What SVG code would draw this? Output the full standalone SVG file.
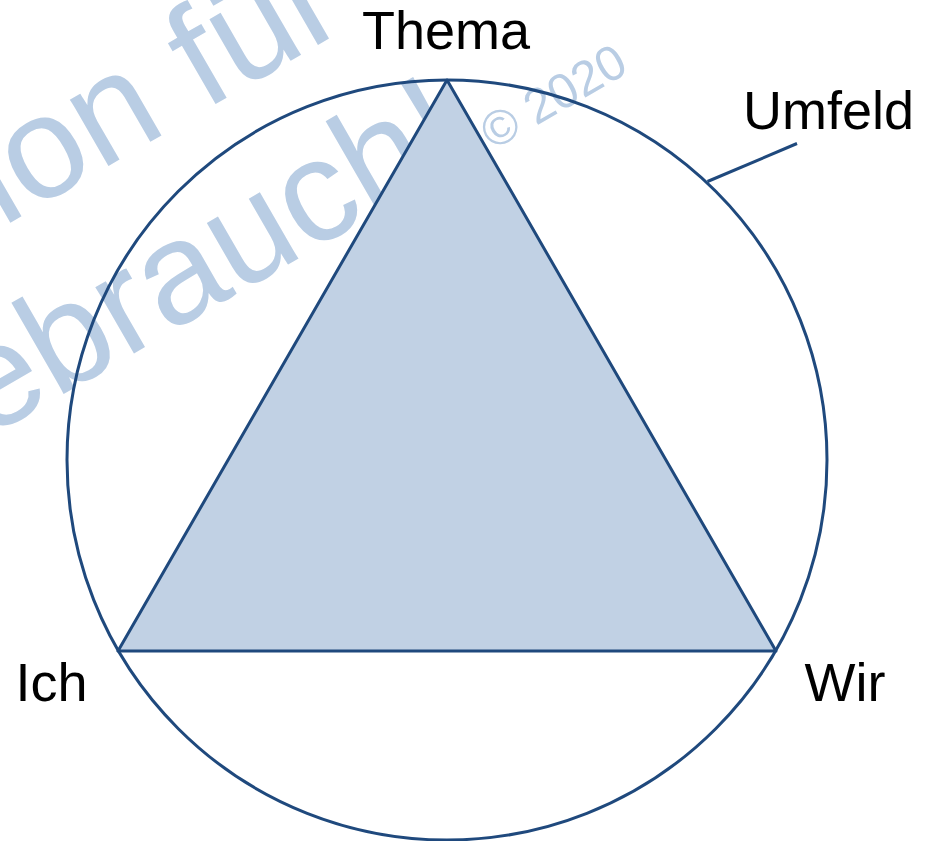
<svg xmlns="http://www.w3.org/2000/svg" width="928" height="841" viewBox="0 0 928 841">
  <style>
    .wm { fill: #b9cde4; font-family: "Liberation Sans", Arial, sans-serif; }
    .lbl { fill: #000000; font-family: "Liberation Sans", Arial, sans-serif; font-size: 54px; }
    .edge { stroke: #1f497d; stroke-width: 3; fill: none; }
  </style>
  <rect width="928" height="841" fill="#ffffff"/>
  <g id="watermark" transform="rotate(-30)">
    <text class="wm" x="-112" y="198" font-size="145">ion für</text>
    <text class="wm" x="-232" y="373" font-size="145">ebrauch!</text>
    <text class="wm" x="351.5" y="377" font-size="49">© 2020</text>
  </g>
  <g id="triangle">
    <polygon points="447,80 118,651 776,651" fill="#c1d1e4" stroke="#1f497d" stroke-width="3" stroke-linejoin="round"/>
  </g>
  <g id="umfeld-circle">
    <circle class="edge" cx="447" cy="460" r="380"/>
  </g>
  <g id="connectors">
    <line class="edge" x1="707.5" y1="181.5" x2="797" y2="143.5" stroke-width="2"/>
  </g>
  <g id="node-thema"><text class="lbl" x="446" y="49" text-anchor="middle">Thema</text></g>
  <g id="node-umfeld"><text class="lbl" x="743" y="129">Umfeld</text></g>
  <g id="node-ich"><text class="lbl" x="15.5" y="700.5">Ich</text></g>
  <g id="node-wir"><text class="lbl" x="804.5" y="700.5">Wir</text></g>
</svg>
